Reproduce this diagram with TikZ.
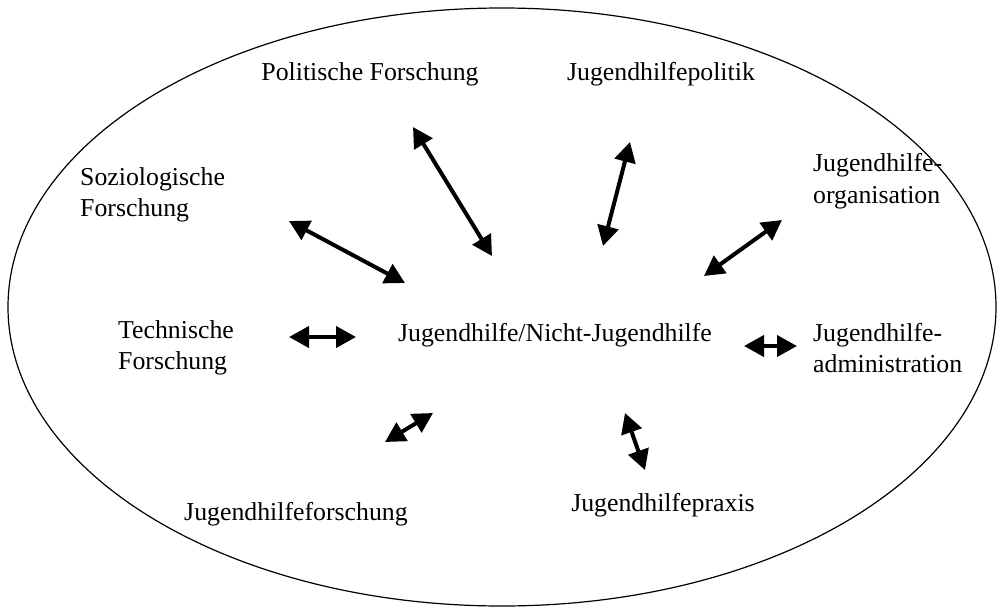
\documentclass[tikz,border=0pt]{standalone}
\usepackage{fontspec}
\setmainfont{Liberation Serif}
\usetikzlibrary{arrows.meta}
\begin{document}
\begin{tikzpicture}[x=1pt,y=-1pt,
  lbl/.style={inner sep=0pt, font=\fontsize{25.8}{31.5}\selectfont},
  dbl/.style={line width=4pt, {Triangle[length=20pt,width=21pt]}-{Triangle[length=20pt,width=21pt]}}]
\useasboundingbox (0,0) rectangle (997,608);
% outer ellipse
\draw[line width=1.2pt] (502,307) ellipse [x radius=494, y radius=299];

% labels
\node[lbl, anchor=base] (center) at (555,341) {Jugendhilfe/Nicht-Jugendhilfe};
\node[lbl, anchor=base] (polfo) at (370,80) {Politische Forschung};
\node[lbl, anchor=base] (jhpol) at (661,80) {Jugendhilfepolitik};
\node[lbl, anchor=west, align=left] (sozfo) at (80,195) {Soziologische\\Forschung};
\node[lbl, anchor=west, align=left] (jhorg) at (813,181) {Jugendhilfe-\\organisation};
\node[lbl, anchor=west, align=left] (tecfo) at (118,348) {Technische\\Forschung};
\node[lbl, anchor=west, align=left] (jhadm) at (813,348) {Jugendhilfe-\\administration};
\node[lbl, anchor=base] (jhfo) at (296,520) {Jugendhilfeforschung};
\node[lbl, anchor=base] (jhpra) at (663,511) {Jugendhilfepraxis};

% arrow end points
\coordinate (a1) at (289,221); \coordinate (b1) at (405,283);
\coordinate (a2) at (413,127); \coordinate (b2) at (492,256);
\coordinate (a3) at (630,142); \coordinate (b3) at (603,246);
\coordinate (a4) at (782,220); \coordinate (b4) at (704,276);
\coordinate (a5) at (289,337); \coordinate (b5) at (356,337);
\coordinate (a6) at (744,346); \coordinate (b6) at (797,346);
\coordinate (a7) at (385,442); \coordinate (b7) at (433,413);
\coordinate (a8) at (625,413); \coordinate (b8) at (645,470);

\draw[dbl] (a1) -- (b1);
\draw[dbl] (a2) -- (b2);
\draw[dbl] (a3) -- (b3);
\draw[dbl] (a4) -- (b4);
\draw[dbl] (a5) -- (b5);
\draw[dbl] (a6) -- (b6);
\draw[dbl] (a7) -- (b7);
\draw[dbl] (a8) -- (b8);
\end{tikzpicture}
\end{document}
